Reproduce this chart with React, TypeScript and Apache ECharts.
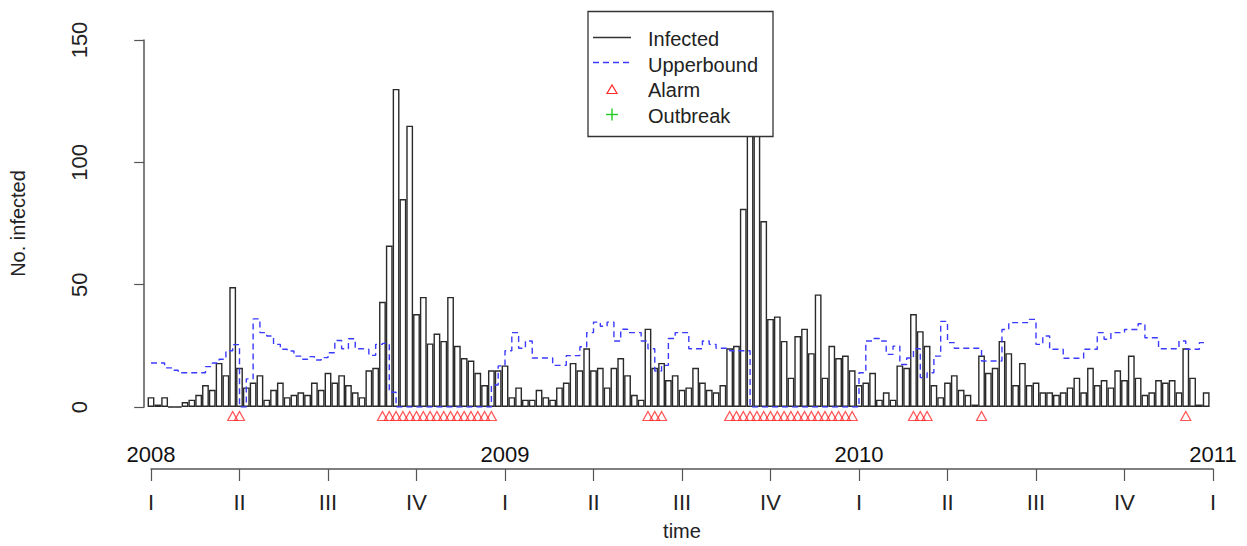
import React, { useEffect, useRef } from "react";
import * as echarts from "echarts";

const FONT = '"Liberation Sans", Arial, sans-serif';

// Weekly surveillance counts, 2008 week 1 to 2010 week 52
const weeks = [
  1, 2, 3, 4, 5, 6, 7, 8, 9, 10, 11, 12, 13, 14, 15, 16, 17, 18, 19, 20, 21, 22, 23, 24, 25, 26,
  27, 28, 29, 30, 31, 32, 33, 34, 35, 36, 37, 38, 39, 40, 41, 42, 43, 44, 45, 46, 47, 48, 49, 50, 51, 52,
  53, 54, 55, 56, 57, 58, 59, 60, 61, 62, 63, 64, 65, 66, 67, 68, 69, 70, 71, 72, 73, 74, 75, 76, 77, 78,
  79, 80, 81, 82, 83, 84, 85, 86, 87, 88, 89, 90, 91, 92, 93, 94, 95, 96, 97, 98, 99, 100, 101, 102, 103, 104,
  105, 106, 107, 108, 109, 110, 111, 112, 113, 114, 115, 116, 117, 118, 119, 120, 121, 122, 123, 124, 125, 126, 127, 128, 129, 130,
  131, 132, 133, 134, 135, 136, 137, 138, 139, 140, 141, 142, 143, 144, 145, 146, 147, 148, 149, 150, 151, 152, 153, 154, 155, 156,
];

const infected = [
  // 2008
  4, 1, 4, 0, 0, 2, 3, 5, 9, 7, 18, 13, 49, 16, 8, 10, 13, 3, 7, 10, 4, 5, 6, 5, 10, 7,
  14, 10, 13, 9, 6, 4, 15, 16, 43, 66, 130, 85, 115, 38, 45, 26, 30, 27, 45, 25, 20, 19, 14, 9, 15, 15,
  // 2009
  17, 4, 8, 3, 3, 7, 4, 3, 8, 10, 18, 15, 24, 15, 16, 8, 16, 20, 13, 5, 3, 32, 16, 18, 11, 13,
  7, 8, 16, 10, 7, 6, 9, 24, 25, 81, 142, 128, 76, 36, 37, 27, 12, 29, 32, 22, 46, 12, 25, 20, 21, 15,
  // 2010
  9, 10, 14, 3, 6, 3, 17, 16, 38, 31, 25, 9, 4, 10, 13, 7, 5, 1, 21, 14, 16, 27, 22, 9, 18, 9,
  10, 6, 6, 5, 6, 8, 12, 6, 16, 9, 11, 8, 15, 11, 21, 12, 5, 6, 11, 10, 11, 6, 24, 12, 1, 6,
];

const upperbound = [
  // 2008
  18, 18, 16, 15, 14, 14, 14, 14, 16.5, 18, 19.5, 23, 25.5, 0, 11.5, 36, 30.4, 29, 25.6, 23.6, 22.9, 20.8, 19.5, 20.6, 19.2, 20.2,
  22.2, 27.2, 23.8, 27.9, 23.8, 23.6, 21.1, 25.6, 26, 6, 0, 0, 0, 0, 0, 0, 0, 0, 0, 0, 0, 0, 0, 0, 9, 16.8,
  // 2009
  23, 30.4, 24, 27, 20, 20, 20, 17, 17, 21, 21, 24.6, 30.4, 34.7, 33, 34.7, 27, 31.8, 30.4, 30.4, 27, 23.8, 14.7, 17, 28, 30.4,
  30.4, 23.8, 23.8, 27, 25.6, 24, 24, 23, 23, 23, 0, 0, 0, 0, 0, 0, 0, 0, 0, 0, 0, 0, 0, 0, 0, 0,
  // 2010
  14, 27, 28, 27, 21.5, 24.9, 17.4, 20, 23.8, 12, 14, 20.8, 35, 26.3, 24, 24, 24, 24, 18.8, 18.8, 18.8, 31.7, 34.5, 34.5, 34.5, 35.8,
  25.6, 29, 23.6, 23.6, 19.9, 19.9, 19.9, 23.6, 23.6, 30.4, 27.7, 30.4, 30.4, 31.7, 31.7, 34, 28.3, 28.3, 23.8, 23.8, 23.8, 27, 23.6, 23.6, 26.3, 26.3,
];

// Weeks in which the count exceeded the upper bound
const alarmWeeks = [
  13, 14,
  35, 36, 37, 38, 39, 40, 41, 42, 43, 44, 45, 46, 47, 48, 49, 50, 51,
  74, 75, 76,
  86, 87, 88, 89, 90, 91, 92, 93, 94, 95, 96, 97, 98, 99, 100, 101, 102, 103, 104,
  113, 114, 115,
  123,
  153,
];

const yearLabels = ["2008", "2009", "2010", "2011"];
const quarterLabels = ["I", "II", "III", "IV"];

// Alarm markers sit just under the zero line
const ALARM_Y = -3.7;

export default function App() {
  const ref = useRef<HTMLDivElement>(null);

  useEffect(() => {
    document.body.style.margin = "0";
    if (!ref.current) return;
    const chart = echarts.init(ref.current, undefined, { renderer: "svg" });

    const axisColor = "#555";
    const textColor = "#222";

    const option = {
      animation: false,
      textStyle: { fontFamily: FONT },
      grid: [
        { left: 106.07, right: 13.58, top: 40, bottom: 139 },
        { left: 151, width: 1062, top: 468, height: 1 },
      ],
      xAxis: [
        { type: "value", gridIndex: 0, min: -5.6, max: 160, show: false },
        {
          type: "value",
          gridIndex: 1,
          min: 1,
          max: 157,
          interval: 13,
          position: "bottom",
          axisLine: { lineStyle: { color: axisColor, width: 1.5 } },
          axisTick: { length: 12, lineStyle: { color: axisColor, width: 1.2 } },
          axisLabel: {
            formatter: (v: number) => quarterLabels[Math.round((v - 1) / 13) % 4],
            fontSize: 22,
            color: textColor,
            fontFamily: FONT,
            margin: 22,
            showMinLabel: true,
            showMaxLabel: true,
          },
          splitLine: { show: false },
          name: "time",
          nameLocation: "middle",
          nameGap: 52,
          nameTextStyle: { fontSize: 20, color: textColor, fontFamily: FONT },
        },
        {
          type: "value",
          gridIndex: 1,
          min: 1,
          max: 157,
          interval: 52,
          position: "top",
          axisLine: { show: false },
          axisTick: { show: false },
          axisLabel: {
            formatter: (v: number) => yearLabels[Math.round((v - 1) / 52)],
            fontSize: 22,
            color: "#111",
            fontFamily: FONT,
            margin: 3,
            showMinLabel: true,
            showMaxLabel: true,
          },
          splitLine: { show: false },
        },
      ],
      yAxis: [
        {
          type: "value",
          gridIndex: 0,
          min: 0,
          max: 150,
          interval: 50,
          axisLine: { show: true, lineStyle: { color: axisColor, width: 1.5 } },
          axisTick: { show: true, length: 10, lineStyle: { color: axisColor, width: 1.2 } },
          axisLabel: { rotate: 90, fontSize: 22, color: textColor, fontFamily: FONT, margin: 16 },
          splitLine: { show: false },
          name: "No. infected",
          nameLocation: "middle",
          nameRotate: 90,
          nameGap: 78,
          nameTextStyle: { fontSize: 20, color: textColor, fontFamily: FONT },
        },
        { type: "value", gridIndex: 1, min: 0, max: 1, show: false },
      ],
      series: [
        {
          name: "Infected",
          type: "bar",
          xAxisIndex: 0,
          yAxisIndex: 0,
          data: weeks.map((w, i) => [w, infected[i]]),
          barWidth: 6.81,
          itemStyle: { color: "rgba(0,0,0,0)", borderColor: "#2a2a2a", borderWidth: 1.4 },
          z: 2,
        },
        {
          name: "Upperbound",
          type: "line",
          xAxisIndex: 0,
          yAxisIndex: 0,
          step: "end",
          data: weeks.map((w, i) => [w, upperbound[i]]),
          symbol: "none",
          lineStyle: { color: "#3b3bff", width: 1.4, type: [6, 4] },
          z: 3,
        },
        {
          name: "Alarm",
          type: "scatter",
          xAxisIndex: 0,
          yAxisIndex: 0,
          data: alarmWeeks.map((w) => [w, ALARM_Y]),
          symbol: "triangle",
          symbolSize: [10, 9],
          itemStyle: { color: "rgba(0,0,0,0)", borderColor: "#ff2a2a", borderWidth: 1.2 },
          clip: false,
          z: 4,
        },
      ],
      graphic: [
        {
          type: "rect",
          z: 100,
          shape: { x: 588, y: 11.5, width: 185, height: 125 },
          style: { fill: "#fff", stroke: "#333", lineWidth: 1.3 },
        },
        {
          type: "line",
          z: 101,
          shape: { x1: 593, y1: 37.5, x2: 631, y2: 37.5 },
          style: { stroke: "#333", lineWidth: 1.3 },
        },
        {
          type: "line",
          z: 101,
          shape: { x1: 593, y1: 62.5, x2: 631, y2: 62.5 },
          style: { stroke: "#3b3bff", lineWidth: 1.3, lineDash: [6, 4] },
        },
        {
          type: "polygon",
          z: 101,
          shape: { points: [[607, 93.5], [617, 93.5], [612, 85]] },
          style: { fill: "none", stroke: "#ff2a2a", lineWidth: 1.2 },
        },
        {
          type: "line",
          z: 101,
          shape: { x1: 606, y1: 114.5, x2: 618, y2: 114.5 },
          style: { stroke: "#22cc22", lineWidth: 1.4 },
        },
        {
          type: "line",
          z: 101,
          shape: { x1: 612, y1: 108.5, x2: 612, y2: 120.5 },
          style: { stroke: "#22cc22", lineWidth: 1.4 },
        },
        ...["Infected", "Upperbound", "Alarm", "Outbreak"].map((t, i) => ({
          type: "text",
          z: 101,
          x: 648,
          y: 39 + i * 25.5,
          style: {
            text: t,
            fontSize: 20,
            fontFamily: FONT,
            fill: textColor,
            verticalAlign: "middle",
          },
        })),
      ],
    };

    chart.setOption(option as any);
    return () => chart.dispose();
  }, []);

  return <div ref={ref} style={{ width: 1247, height: 546 }} />;
}
